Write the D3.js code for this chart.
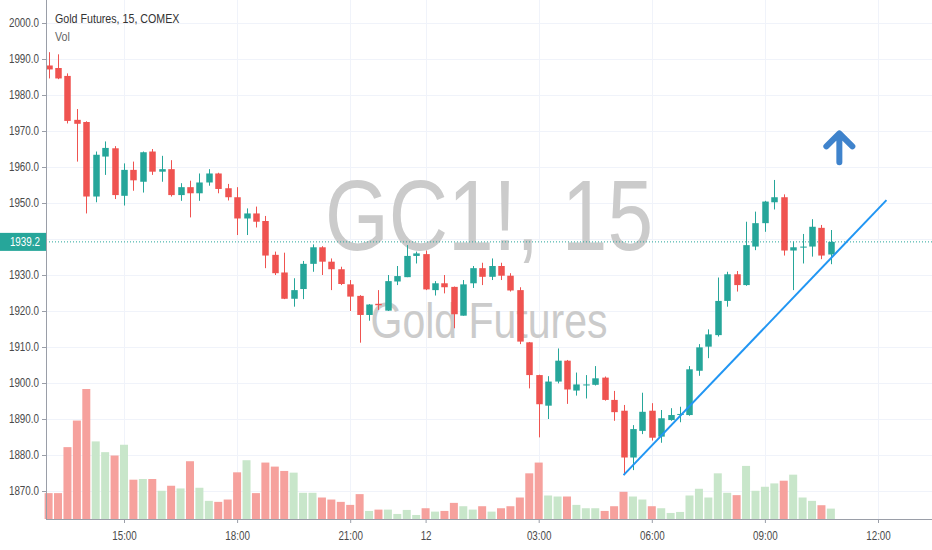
<!DOCTYPE html>
<html><head><meta charset="utf-8">
<script src="https://cdn.jsdelivr.net/npm/d3@7"></script>
<style>body{margin:0;background:#fff}svg{display:block}</style>
</head><body><svg id="c" width="932" height="550"></svg>
<script>
const opens =[1988.2,1987.5,1985.3,1973.1,1972.5,1951.8,1962.9,1965.2,1952.0,1959.2,1955.9,1964.3,1958.7,1959.4,1952.2,1954.4,1952.7,1955.7,1958.2,1954.1,1951.6,1945.7,1947.1,1945.0,1935.6,1930.7,1923.4,1926.1,1933.1,1937.7,1933.7,1931.6,1927.4,1924.2,1918.9,1922.0,1920.1,1928.2,1929.4,1935.3,1935.8,1925.8,1927.7,1926.7,1918.7,1927.7,1931.9,1929.5,1932.5,1929.8,1925.8,1911.3,1902.2,1893.7,1900.4,1906.2,1897.9,1899.4,1899.5,1901.5,1895.3,1892.3,1879.3,1886.7,1892.3,1885.1,1889.7,1891.2,1891.1,1903.4,1910.1,1913.3,1922.8,1930.2,1927.2,1937.9,1944.4,1950.2,1951.6,1936.8,1937.6,1937.9,1943.1,1935.7];
const highs =[1991.9,1991.3,1986.0,1976.1,1972.7,1964.3,1967.1,1965.8,1961.0,1961.5,1964.3,1965.0,1963.1,1961.9,1955.5,1956.2,1958.2,1959.4,1958.4,1955.3,1954.4,1948.5,1949.0,1946.4,1936.5,1936.2,1929.1,1933.9,1938.5,1938.0,1934.6,1932.3,1928.6,1924.4,1921.9,1925.8,1930.0,1932.5,1938.3,1936.5,1936.8,1928.3,1930.0,1926.8,1928.6,1932.5,1933.4,1934.6,1933.4,1930.5,1926.6,1911.4,1902.3,1901.9,1909.6,1906.4,1902.9,1902.2,1904.7,1901.8,1897.8,1893.9,1888.3,1897.3,1894.4,1892.5,1893.0,1893.4,1904.7,1910.8,1914.9,1929.3,1930.9,1931.1,1944.8,1947.6,1950.6,1956.4,1952.4,1939.3,1941.4,1945.5,1943.9,1942.5];
const lows  =[1984.6,1984.4,1972.1,1961.5,1947.1,1950.2,1957.8,1951.1,1949.3,1953.4,1952.9,1957.8,1955.9,1951.8,1950.6,1946.0,1950.6,1954.8,1952.7,1950.7,1941.1,1941.1,1943.2,1931.9,1930.0,1923.3,1921.2,1923.3,1930.9,1930.0,1925.8,1927.2,1920.0,1911.2,1917.3,1920.3,1920.0,1927.2,1929.4,1933.2,1925.8,1924.3,1924.9,1915.2,1918.7,1926.4,1927.2,1928.6,1928.6,1925.4,1910.8,1898.5,1884.9,1890.0,1899.9,1894.2,1896.5,1895.7,1899.3,1895.1,1889.5,1874.4,1875.8,1885.8,1884.0,1883.4,1889.5,1889.1,1890.9,1902.0,1906.9,1912.9,1921.2,1925.4,1927.0,1936.9,1942.0,1948.2,1935.4,1925.8,1933.2,1935.1,1934.4,1933.0];
const closes=[1987.1,1984.6,1972.8,1972.0,1951.8,1963.4,1965.3,1952.2,1959.2,1956.3,1964.1,1958.7,1959.4,1952.2,1954.4,1952.7,1955.7,1958.2,1953.9,1951.6,1945.7,1947.1,1944.8,1935.4,1930.5,1923.4,1925.8,1933.1,1937.7,1933.7,1931.6,1927.5,1924.0,1918.9,1921.8,1921.6,1928.3,1929.7,1935.3,1936.0,1926.0,1927.7,1926.6,1919.1,1927.4,1931.9,1929.5,1932.5,1929.8,1925.7,1911.5,1902.2,1894.1,1900.4,1906.2,1898.2,1899.6,1899.6,1901.3,1895.3,1891.9,1879.3,1887.2,1892.0,1884.8,1890.2,1891.1,1891.4,1903.8,1909.9,1913.5,1922.8,1930.2,1927.2,1938.3,1944.4,1950.4,1951.6,1936.8,1937.7,1937.9,1943.4,1935.4,1939.2];
const volumes=[642,642,1783,2442,3225,1925,1658,1575,1842,975,992,992,700,825,758,1433,775,450,425,483,1158,1458,642,1400,1300,1192,1150,650,650,533,483,425,350,617,200,233,233,125,225,100,267,183,200,400,317,233,317,183,267,317,533,1133,1400,583,558,558,350,267,267,200,317,675,558,483,317,267,150,175,583,750,533,1133,650,592,1317,700,800,883,950,1100,533,450,342,258];
const timeTickIdx=[8,20,32,40,52,64,76,88];
const timeTickLabels=["15:00","18:00","21:00","12","03:00","06:00","09:00","12:00"];
const priceGrid=[1870,1880,1890,1900,1910,1920,1930,1940,1950,1960,1970,1980,1990,2000];
const priceLabels=[1870,1880,1890,1900,1910,1920,1930,1950,1960,1970,1980,1990,2000];
const lastPrice=1939.2;
const trendIdx=[61,88.9];
const trendPrice=[1874.4,1950.8];
const arrowIdx=83.9, arrowPrice=1969.9;
const titleText="Gold Futures, 15, COMEX";
const volLabel="Vol";
const watermark1="GC1!, 15", watermark2="Gold Futures";

const W=932,H=550,L=46,R=932,B=519;
const UP="#26a69a",DN="#ef5350",VUP="#c8e6ca",VDN="#f6a19d";
const FONT="'Liberation Sans',Arial,sans-serif";
const NARROW=0.82;
const svg=d3.select("#c");
const x=d3.scaleLinear().domain([0,88]).range([48.6,878]);
const y=d3.scaleLinear().domain([1870,2000]).range([491,23]);
const maxV=d3.max(volumes);
const v=d3.scaleLinear().domain([0,maxV]).range([B,389]);

const data=opens.map((o,i)=>({i,o,h:highs[i],l:lows[i],c:closes[i],vol:volumes[i],up:closes[i]>=o}));

// grid
const g=svg.append("g");
g.selectAll(".hg").data(priceGrid).join("line").attr("x1",L).attr("x2",R)
 .attr("y1",d=>y(d)+.5).attr("y2",d=>y(d)+.5).attr("stroke","#f0f3fa");
g.selectAll(".vg").data(timeTickIdx).join("line").attr("y1",0).attr("y2",B)
 .attr("x1",d=>Math.round(x(d))+.5).attr("x2",d=>Math.round(x(d))+.5).attr("stroke","#f0f3fa");

// watermark
svg.append("text").attr("x",(L+R)/2).attr("y",250).attr("text-anchor","middle").attr("class","nar")
 .attr("font-family",FONT).attr("font-size",100).attr("fill","#cbcbcb").text(watermark1);
svg.append("text").attr("x",(L+R)/2).attr("y",338).attr("text-anchor","middle").attr("class","nar")
 .attr("font-family",FONT).attr("font-size",50).attr("fill","#cbcbcb").text(watermark2);

// volume
svg.append("g").selectAll("rect").data(data).join("rect")
 .attr("x",d=>x(d.i)-4).attr("width",8)
 .attr("y",d=>v(d.vol)).attr("height",d=>B-v(d.vol))
 .attr("fill",d=>d.up?VUP:VDN);

// last price dotted line
svg.append("line").attr("x1",L).attr("x2",R).attr("y1",y(lastPrice)).attr("y2",y(lastPrice))
 .attr("stroke",UP).attr("stroke-dasharray","1,2");

// candles
const cg=svg.append("g");
cg.selectAll("line").data(data).join("line")
 .attr("x1",d=>Math.round(x(d.i))+.5).attr("x2",d=>Math.round(x(d.i))+.5)
 .attr("y1",d=>y(d.h)).attr("y2",d=>y(d.l))
 .attr("stroke",d=>d.up?UP:DN).attr("stroke-width",1);
cg.selectAll("rect").data(data).join("rect")
 .attr("x",d=>Math.round(x(d.i))+.5-3.25).attr("width",6.5)
 .attr("y",d=>y(Math.max(d.o,d.c))).attr("height",d=>Math.max(1,Math.abs(y(d.o)-y(d.c))))
 .attr("fill",d=>d.up?UP:DN);

// trend line
svg.append("line").attr("x1",x(trendIdx[0])).attr("y1",y(trendPrice[0]))
 .attr("x2",x(trendIdx[1])).attr("y2",y(trendPrice[1]))
 .attr("stroke","#2196f3").attr("stroke-width",2);

// arrow
const ax=x(arrowIdx), ay=y(arrowPrice);
svg.append("path").attr("d",`M${ax-13},${ay+15}L${ax},${ay+2}L${ax+13},${ay+15}M${ax},${ay+3}L${ax},${ay+31}`)
 .attr("fill","none").attr("stroke","#3f83cc").attr("stroke-width",6)
 .attr("stroke-linecap","round").attr("stroke-linejoin","round");

// axes
const ya=svg.append("g").attr("transform",`translate(${L},0)`)
 .call(d3.axisLeft(y).tickValues(priceLabels).tickFormat(d=>d.toFixed(1)).tickSize(4).tickPadding(3));
ya.select(".domain").attr("stroke","#9a9ea8").attr("d",`M0.5,0V${B}`);
ya.selectAll(".tick line").attr("stroke","#9a9ea8");
ya.selectAll("text").attr("font-family",FONT).attr("font-size",12).attr("fill","#4a4a4a").attr("class","nar");

const xa=svg.append("g").attr("transform",`translate(0,${B})`)
 .call(d3.axisBottom(x).tickValues(timeTickIdx).tickFormat((d,k)=>timeTickLabels[k]).tickSize(4).tickPadding(8));
xa.select(".domain").attr("stroke","#9a9ea8").attr("d",`M${L},0.5H${R}`);
xa.selectAll(".tick line").attr("stroke","#9a9ea8");
xa.selectAll("text").attr("font-family",FONT).attr("font-size",12).attr("fill","#4a4a4a").attr("class","nar");

// last price label
const lp=svg.append("g");
lp.append("rect").attr("x",0).attr("y",y(lastPrice)-9).attr("width",L).attr("height",18).attr("fill",UP);
lp.append("text").attr("x",L-6).attr("y",y(lastPrice)+4).attr("text-anchor","end").attr("class","nar")
 .attr("font-family",FONT).attr("font-size",12).attr("fill","#fff").text(lastPrice.toFixed(1));

// header
svg.append("text").attr("x",55).attr("y",23).attr("font-family",FONT).attr("font-size",13).attr("class","nar")
 .attr("fill","#333").text(titleText);
svg.append("text").attr("x",55).attr("y",41).attr("font-family",FONT).attr("font-size",13).attr("class","nar")
 .attr("fill","#666").text(volLabel);

// condense text to mimic a narrow face
svg.selectAll("text.nar").each(function(){
  const len=this.getComputedTextLength();
  d3.select(this).attr("textLength",len*NARROW).attr("lengthAdjust","spacingAndGlyphs");
});
</script></body></html>
